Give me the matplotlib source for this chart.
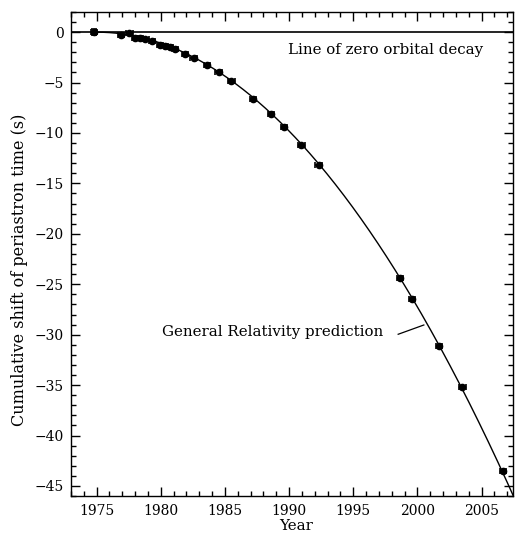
import numpy as np
import matplotlib
matplotlib.use('Agg')
import matplotlib.pyplot as plt
from matplotlib.ticker import MultipleLocator

years = [1974.8, 1976.9, 1977.55, 1978.0, 1978.4, 1978.8, 1979.3, 1979.95, 1980.3,
         1980.7, 1981.1, 1981.9, 1982.55, 1983.6, 1984.5, 1985.5, 1987.2, 1988.6,
         1989.6, 1990.95, 1992.3, 1998.65, 1999.6, 2001.7, 2003.5, 2006.65]
shift = [0.0, -0.26, -0.06, -0.55, -0.6, -0.72, -0.92, -1.25, -1.38,
         -1.48, -1.71, -2.14, -2.54, -3.3, -4.0, -4.88, -6.6, -8.1,
         -9.4, -11.15, -13.2, -24.4, -26.47, -31.1, -35.2, -43.56]
shift_err = [0.3] + [0.0] * 25

# GR prediction: quadratic decay, coefficient (s / yr^2)
gr_t0 = 1975.0
gr_coeff = -0.0436

plt.rcParams['font.family'] = 'DejaVu Serif'
plt.rcParams['font.size'] = 9

fig = plt.figure(figsize=(5.16, 5.33), dpi=100)
ax = fig.add_axes([0.1376, 0.0694, 0.8566, 0.9081])

t = np.linspace(gr_t0, 2008, 400)
ax.plot(t, gr_coeff * (t - gr_t0) ** 2, color='black', linewidth=1.0)
ax.axhline(0, color='black', linewidth=1.2)

ax.errorbar(years, shift, xerr=0.25, yerr=shift_err, fmt='o', color='black',
            markersize=4.5, elinewidth=1.2, capsize=2, capthick=1.2)

ax.text(1989.95, -1.75, 'Line of zero orbital decay', va='center', ha='left', fontsize=10.8)
ax.text(1980.08, -29.7, 'General Relativity prediction', va='center', ha='left', fontsize=10.8)
ax.plot([1998.5, 2000.5], [-29.96, -29.04], color='black', linewidth=0.9)

ax.set_xlim(1973.0, 2007.45)
ax.set_ylim(-46, 2)
ax.xaxis.set_major_locator(MultipleLocator(5))
ax.xaxis.set_minor_locator(MultipleLocator(1))
ax.yaxis.set_major_locator(MultipleLocator(5))
ax.yaxis.set_minor_locator(MultipleLocator(1))
ax.tick_params(which='both', direction='in', top=True, right=True, width=1.0)
ax.tick_params(which='major', length=6.5, labelsize=10)
ax.tick_params(axis='x', which='major', pad=6)
ax.tick_params(axis='y', which='major', pad=5)
ax.tick_params(which='minor', length=3.5)
for s in ax.spines.values():
    s.set_linewidth(1.0)

fig.text(296 / 516, 1 - 525.5 / 533, 'Year', ha='center', va='center', fontsize=10.8)
fig.text(20 / 516, 1 - 270 / 533, 'Cumulative shift of periastron time (s)',
         ha='center', va='center', rotation=90, fontsize=11.5)

fig.savefig('out.png', dpi=100)
